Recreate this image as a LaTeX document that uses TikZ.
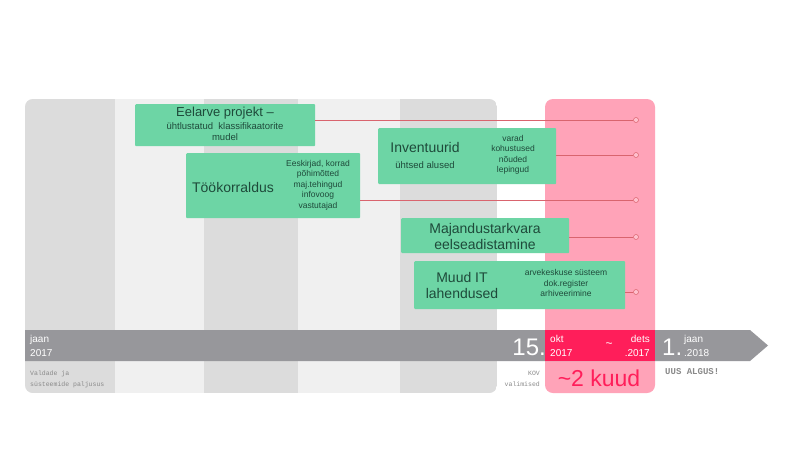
\documentclass[tikz,border=0pt]{standalone}
\usepackage{fontspec}
\setmainfont{Liberation Sans}
\newfontfamily\monof{Liberation Mono}
\definecolor{stripeA}{HTML}{DCDCDC}
\definecolor{stripeB}{HTML}{F0F0F0}
\definecolor{pinkbg}{HTML}{FFA3B8}
\definecolor{redbar}{HTML}{FF1E5A}
\definecolor{bar}{HTML}{97979B}
\definecolor{boxg}{HTML}{6DD5A5}
\definecolor{boxt}{HTML}{1E4A3A}
\definecolor{lnk}{HTML}{D9646E}
\definecolor{capt}{HTML}{8A8A8A}
\begin{document}
\begin{tikzpicture}[x=1pt,y=-1pt,
  box/.style={fill=boxg,draw=none,rounded corners=1pt,inner sep=0pt,anchor=north west,text=boxt},
  big/.style={font=\fontsize{14}{16}\selectfont,text=boxt,align=center},
  small/.style={font=\fontsize{8.5}{10.5}\selectfont,text=boxt,align=center},
  link/.style={draw=lnk,line width=0.5pt},
  dot/.style={circle,draw=lnk,fill=pinkbg!70,minimum size=5pt,inner sep=0pt,line width=0.5pt},
  wt/.style={text=white,anchor=west,inner sep=0pt,align=left,font=\fontsize{10}{14}\selectfont}]
\useasboundingbox (0,0) rectangle (800,450);
\fill[white] (0,0) rectangle (800,450);
% background stripes
\begin{scope}
\clip[rounded corners=8pt] (25,393) -- (25,99) -- (497,99) -- (497,393) -- cycle;
\fill[stripeB] (25,99) rectangle (497,393);
\fill[stripeA] (25,99) rectangle (115,393);
\fill[stripeA] (204,99) rectangle (298,393);
\fill[stripeA] (400,99) rectangle (497,393);
\end{scope}
\fill[pinkbg,rounded corners=8pt] (545,99) rectangle (655,393);
% timeline bar
\fill[bar] (25,330) -- (750,330) -- (768,345.5) -- (750,361) -- (25,361) -- cycle;
\fill[redbar] (545,330) rectangle (655,361);
% boxes
\node[box,minimum width=180pt,minimum height=42pt] (b1) at (135,104) {};
\node[big,font=\fontsize{13}{14}\selectfont] at (225,113) {Eelarve projekt –};
\node[small,font=\fontsize{9.5}{11}\selectfont] at (225,132) {ühtlustatud\ \ klassifikaatorite\\mudel};
\node[box,minimum width=174pt,minimum height=65pt] (b2) at (186,153) {};
\node[big] at (233,187) {Töökorraldus};
\node[small] at (318,185) {Eeskirjad, korrad\\põhimõtted\\maj.tehingud\\infovoog\\vastutajad};
\node[box,minimum width=178pt,minimum height=56pt] (b3) at (378,128) {};
\node[big] at (425,147) {Inventuurid};
\node[small,font=\fontsize{9.5}{10}\selectfont] at (425,165) {ühtsed alused};
\node[small] at (513,155) {varad\\kohustused\\nõuded\\lepingud};
\node[box,minimum width=168pt,minimum height=35pt] (b4) at (401,218) {};
\node[big,align=center] at (485,236) {Majandustarkvara\\eelseadistamine};
\node[box,minimum width=211pt,minimum height=48pt] (b5) at (414,261) {};
\node[big] at (462,285) {Muud IT\\lahendused};
\node[small] at (566,283) {arvekeskuse süsteem\\dok.register\\arhiveerimine};
% links
\node[dot] (d1) at (636,120) {};
\node[dot] (d2) at (636,155) {};
\node[dot] (d3) at (636,200) {};
\node[dot] (d4) at (636,237) {};
\node[dot] (d5) at (636,292) {};
\coordinate (s1) at (315,120);
\coordinate (s2) at (556,155);
\coordinate (s3) at (360,200);
\coordinate (s4) at (569,237);
\coordinate (s5) at (625,292);
\draw[link] (s1) -- (d1);
\draw[link] (s2) -- (d2);
\draw[link] (s3) -- (d3);
\draw[link] (s4) -- (d4);
\draw[link] (s5) -- (d5);
% timeline texts
\node[wt] (t1) at (30,345.5) {jaan\\2017};
\node[text=white,inner sep=0pt,anchor=east,font=\fontsize{24}{24}\selectfont] (t2) at (546,347) {15.};
\node[wt] (t3) at (550,345.5) {okt\\2017};
\node[text=white,inner sep=0pt,font=\fontsize{12}{12}\selectfont] (t4) at (609,345) {\textasciitilde};
\node[wt,anchor=east,align=right] (t5) at (650,345.5) {dets\\.2017};
\node[text=white,inner sep=0pt,anchor=west,font=\fontsize{24}{24}\selectfont] (t6) at (662,347) {1.};
\node[wt] (t7) at (684,345.5) {jaan\\.2018};
% captions
\node[anchor=north west,inner sep=0pt,align=left,text=capt,font=\monof\fontsize{6.5}{11}\selectfont] (c1) at (30,371) {Valdade ja\\süsteemide paljusus};
\node[anchor=north east,inner sep=0pt,align=right,text=capt,font=\monof\fontsize{6.5}{11}\selectfont] (c2) at (540,371) {KOV\\valimised};
\node[text=redbar,inner sep=0pt,font=\fontsize{23}{23}\selectfont] (c3) at (599,378) {\textasciitilde 2 kuud};
\node[anchor=north west,inner sep=0pt,text=capt,font=\monof\bfseries\fontsize{9}{10}\selectfont] (c4) at (665,368) {UUS ALGUS!};
\end{tikzpicture}
\end{document}
